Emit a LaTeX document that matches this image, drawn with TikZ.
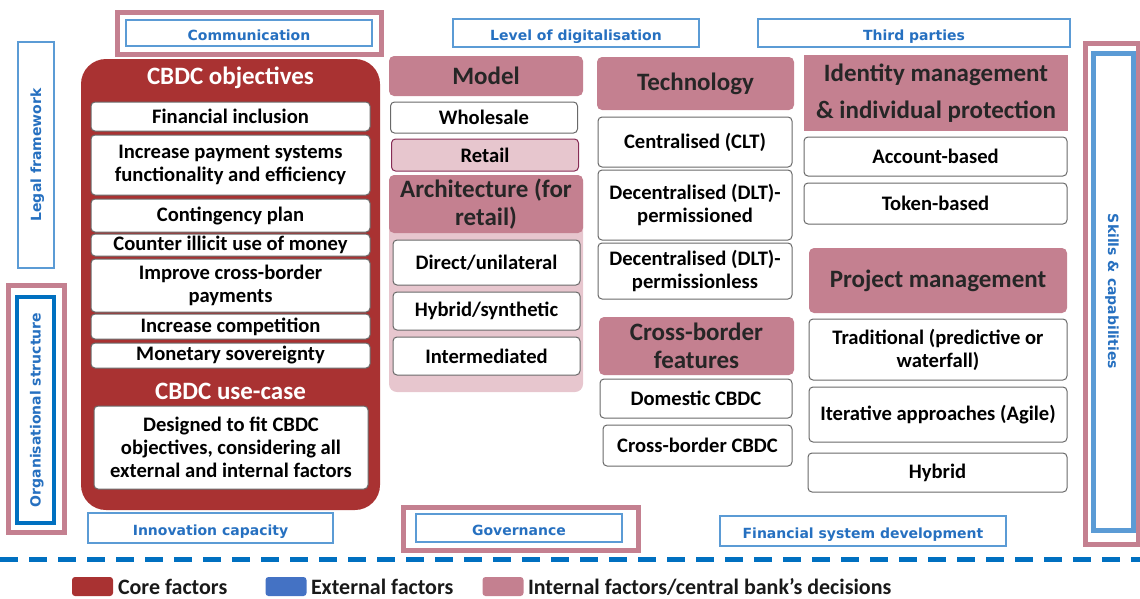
\documentclass[tikz,border=0pt]{standalone}
\usepackage{fontspec}
\setmainfont{Carlito}
\newfontfamily\labelface{DejaVu Sans}
\usepackage{xcolor}
\usepackage{tikz}
\usetikzlibrary{positioning}

\definecolor{coreRed}{RGB}{169,50,50}
\definecolor{intPink}{RGB}{196,128,144}
\definecolor{paleRose}{RGB}{231,198,206}
\definecolor{retailEdge}{RGB}{135,45,85}
\definecolor{extLine}{RGB}{91,155,213}
\definecolor{extText}{RGB}{38,112,192}
\definecolor{deepBlue}{RGB}{0,112,192}
\definecolor{keyBlue}{RGB}{68,114,196}
\definecolor{boxGray}{RGB}{105,105,105}

\newcommand{\cbItem}{\fontsize{20.6}{23}\selectfont\bfseries}
\newcommand{\cbHead}{\fontsize{25}{28}\selectfont\bfseries}
\newcommand{\cbExt}{\labelface\fontsize{14}{16}\selectfont\bfseries}
\newcommand{\cbLeg}{\fontsize{22}{24}\selectfont\bfseries}

\begin{document}
\begin{tikzpicture}[x=1pt, y=-1pt, inner sep=0pt, outer sep=0pt]
	\tikzstyle{item} = [draw=boxGray, line width=1pt, fill=white, rounded corners=4pt, align=center, font=\cbItem]
	\tikzstyle{head} = [fill=intPink, rounded corners=5pt, align=center, font=\cbHead, text=black!85]
	\tikzstyle{ext} = [draw=extLine, line width=1.5pt, text=extText, font=\cbExt, align=center, text height=14pt, text depth=0pt]
	\tikzstyle{sideways} = [text height=10pt]
	\tikzstyle{pinkframe} = [draw=intPink, line width=5pt]
	\tikzstyle{swatch} = [minimum width=41pt, minimum height=19pt, rounded corners=3pt]
	\tikzstyle{legtext} = [anchor=west, font=\cbLeg, text=black!90]
	\tikzstyle{colA} = [minimum width=279pt]
	\tikzstyle{colB} = [minimum width=187pt]
	\tikzstyle{colC} = [minimum width=194pt]
	\tikzstyle{colD} = [minimum width=259pt]

	\useasboundingbox (0,0) rectangle (1140,598);

	% core factors
	\node[fill=coreRed, rounded corners=25pt, minimum width=299pt, minimum height=451pt]	at (230.5,284.5)	(core)	{};
	\node[font=\cbHead, text=white]				at (230.5,78)		(objtitle)	{CBDC objectives};
	\node[item, colA, minimum height=29pt]		at (230.5,116.5)	(finincl)	{Financial inclusion};
	\node[item, colA, minimum height=60pt]		at (230.5,165)		(payfunc)	{Increase payment systems\\functionality and efficiency};
	\node[item, colA, minimum height=33pt]		at (230.5,215.5)	(contplan)	{Contingency plan};
	\node[item, colA, minimum height=22pt]		at (230.5,245)		(illicit)	{Counter illicit use of money};
	\node[item, colA, minimum height=53pt]		at (230.5,285.5)	(xbpay)		{Improve cross-border\\payments};
	\node[item, colA, minimum height=25pt]		at (230.5,326.5)	(compet)	{Increase competition};
	\node[item, colA, minimum height=25pt]		at (230.5,355.5)	(sovereign)	{Monetary sovereignty};
	\node[font=\cbHead, text=white]				at (230.5,391)		(usetitle)	{CBDC use-case};
	\node[item, minimum width=274pt, minimum height=83pt]	at (231,447.5)	(designed)	{Designed to fit CBDC\\objectives, considering all\\external and internal factors};

	% model and architecture
	\node[head, minimum width=194pt, minimum height=40pt]	at (486,76)		(model)		{Model};
	\node[item, colB, minimum height=31pt]		at (484,117.5)		(wholesale)	{Wholesale};
	\node[item, colB, minimum height=32pt, fill=paleRose, draw=retailEdge]	at (485,155)	(retail)	{Retail};
	\node[fill=paleRose, rounded corners=8pt, minimum width=194pt, minimum height=217pt]	at (486,283.5)	(archbox)	{};
	\node[head, minimum width=194pt, minimum height=58pt]	at (486,204)	(arch)		{Architecture (for\\retail)};
	\node[item, colB, minimum height=45pt]		at (486.5,262.5)	(direct)	{Direct/unilateral};
	\node[item, colB, minimum height=38pt]		at (486.5,311)		(hybsyn)	{Hybrid/synthetic};
	\node[item, colB, minimum height=38pt]		at (486.5,356)		(intermed)	{Intermediated};

	% technology and cross-border
	\node[head, minimum width=197pt, minimum height=53pt]	at (695.5,83.5)	(tech)		{Technology};
	\node[item, colC, minimum height=50pt]		at (695,142)		(clt)		{Centralised (CLT)};
	\node[item, colC, minimum height=70pt]		at (695,205)		(dltperm)	{Decentralised (DLT)-\\permissioned};
	\node[item, colC, minimum height=56pt]		at (695,271)		(dltless)	{Decentralised (DLT)-\\permissionless};
	\node[head, minimum width=195pt, minimum height=58pt]	at (696.5,346)	(xbfeat)	{Cross-border\\features};
	\node[item, minimum width=192pt, minimum height=39pt]	at (696,398.5)	(domestic)	{Domestic CBDC};
	\node[item, minimum width=189pt, minimum height=41pt]	at (697.5,445.5)	(xbcbdc)	{Cross-border CBDC};

	% identity and project management
	\node[head, rounded corners=0pt, minimum width=264pt, minimum height=76pt, font=\fontsize{25}{37}\selectfont\bfseries]	at (936,93)	(identity)	{Identity management\\\& individual protection};
	\node[item, minimum width=263pt, minimum height=39pt]	at (935.5,156.5)	(account)	{Account-based};
	\node[item, minimum width=263pt, minimum height=41pt]	at (935.5,203.5)	(token)		{Token-based};
	\node[head, minimum width=258pt, minimum height=65pt]	at (938,280.5)	(projmgmt)	{Project management};
	\node[item, minimum width=258pt, minimum height=61pt]	at (938,349.5)	(tradit)	{Traditional (predictive or\\waterfall)};
	\node[item, minimum width=258pt, minimum height=55pt]	at (938,414.5)	(iterative)	{Iterative approaches (Agile)};
	\node[item, colD, minimum height=39pt]		at (937.5,472.5)	(hybrid)	{Hybrid};

	% external factors
	\node[pinkframe, minimum width=264pt, minimum height=42pt]	at (249,33)	(commframe)	{};
	\node[ext, minimum width=246pt, minimum height=26pt]	at (249,33)		(comm)		{Communication};
	\node[ext, minimum width=246pt, minimum height=28pt]	at (576,33)		(digital)	{Level of digitalisation};
	\node[ext, minimum width=312pt, minimum height=28pt]	at (914,33)		(third)		{Third parties};
	\node[ext, sideways, rotate=90, minimum width=226pt, minimum height=36pt]	at (36,155)	(legal)	{Legal framework};
	\node[pinkframe, minimum width=56pt, minimum height=247pt]	at (36,408.5)	(orgframe)	{};
	\node[ext, sideways, draw=deepBlue, line width=4pt, rotate=90, minimum width=226pt, minimum height=37pt]	at (35.5,410)	(orgstruct)	{Organisational structure};
	\node[pinkframe, minimum width=53pt, minimum height=501pt]	at (1111.5,293.5)	(skillframe)	{};
	\node[ext, sideways, line width=5pt, rotate=-90, minimum width=477pt, minimum height=40pt]	at (1113,291.5)	(skills)	{Skills \& capabilities};
	\node[ext, minimum width=245pt, minimum height=30pt]	at (210.5,528)	(innov)		{Innovation capacity};
	\node[pinkframe, minimum width=235pt, minimum height=43pt]	at (520.5,528.5)	(govframe)	{};
	\node[ext, minimum width=206pt, minimum height=28pt]	at (519,528)	(govern)	{Governance};
	\node[ext, minimum width=286pt, minimum height=30pt]	at (863,531)	(finsys)	{Financial system development};

	% legend
	\coordinate (sepL) at (0,559);
	\coordinate (sepR) at (1140,559);
	\draw[deepBlue, line width=5pt, dash pattern=on 18pt off 11pt] (sepL) -- (sepR);

	\node[swatch, fill=coreRed]			at (92.5,586.5)		(keycore)	{};
	\node[legtext]						at (118,587)		(labcore)	{Core factors};
	\node[swatch, fill=keyBlue]			at (286,586.5)		(keyext)	{};
	\node[legtext]						at (311,587)		(labext)	{External factors};
	\node[swatch, fill=intPink]			at (503,586.5)		(keyint)	{};
	\node[legtext]						at (528,587)		(labint)	{Internal factors/central bank’s decisions};
\end{tikzpicture}
\end{document}
